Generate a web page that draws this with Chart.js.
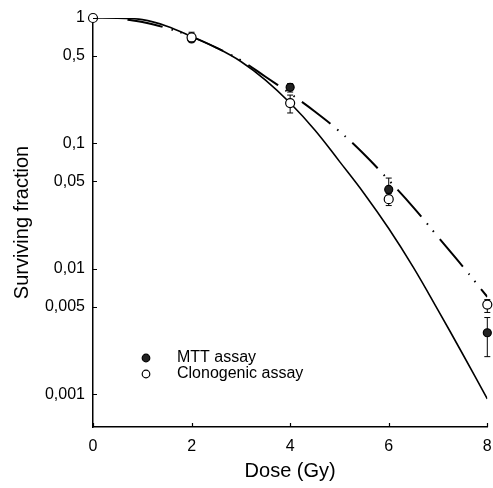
<!DOCTYPE html>
<html>
<head>
<meta charset="utf-8">
<script src="https://cdn.jsdelivr.net/npm/chart.js@4.4.1/dist/chart.umd.min.js"></script>
<style>
html, body { margin: 0; padding: 0; background: #fff; }
#wrap { width: 493px; height: 488px; }
</style>
</head>
<body>
<div id="wrap"><canvas id="myChart"></canvas></div>
<script>
Chart.defaults.font.family = 'Liberation Sans, Arial, sans-serif';
Chart.defaults.color = '#000';

const doses = [0, 2, 4, 6, 8];
const mttValues = [null, 0.68, 0.28, 0.043, 0.0031];
const mttLow = [null, 0.66, 0.257, 0.040, 0.0020];
const mttHigh = [null, 0.70, 0.30, 0.053, 0.0041];
const clonoValues = [1, 0.70, 0.21, 0.036, 0.0052];
const clonoLow = [1, 0.66, 0.175, 0.032, 0.0045];
const clonoHigh = [1, 0.77, 0.243, 0.038, 0.0057];

// fitted curves
const solidDoses = [0, 0.5, 1, 1.5, 2, 2.5, 3, 3.5, 4, 4.5, 5, 5.5, 6, 6.5, 7, 7.5, 8];
const solidFit = [1, 0.995, 0.97, 0.86, 0.71, 0.58, 0.45, 0.32, 0.21, 0.128, 0.072, 0.04, 0.021, 0.0103, 0.0047, 0.0021, 0.00092];
const dashDoses = [0.7, 1, 1.5, 2, 2.5, 3, 3.5, 4, 4.5, 5, 5.5, 6, 6.5, 7, 7.5, 8];
const dashFit = [0.97, 0.93, 0.83, 0.71, 0.58, 0.46, 0.34, 0.25, 0.18, 0.125, 0.082, 0.051, 0.031, 0.018, 0.0105, 0.006];

const yTicks = [1, 0.5, 0.1, 0.05, 0.01, 0.005, 0.001];
const yTickLabels = ['1', '0,5', '0,1', '0,05', '0,01', '0,005', '0,001'];
const xTicks = [0, 2, 4, 6, 8];

function pts(xs, ys) {
    return xs.map((x, i) => ({ x: x, y: ys[i] })).filter(p => p.y !== null);
}

// error bars, drawn under the markers
const errorBars = {
    id: 'errorBars',
    beforeDatasetsDraw(chart) {
        const ctx = chart.ctx;
        const xs = chart.scales.x, ys = chart.scales.y;
        const sets = [[mttLow, mttHigh], [clonoLow, clonoHigh]];
        ctx.save();
        ctx.strokeStyle = '#000';
        ctx.lineWidth = 1;
        sets.forEach(s => {
            doses.forEach((d, i) => {
                if (s[0][i] === null) return;
                const px = xs.getPixelForValue(d);
                const lo = ys.getPixelForValue(s[0][i]);
                const hi = ys.getPixelForValue(s[1][i]);
                ctx.beginPath();
                ctx.moveTo(px, lo); ctx.lineTo(px, hi);
                ctx.moveTo(px - 3, lo); ctx.lineTo(px + 3, lo);
                ctx.moveTo(px - 3, hi); ctx.lineTo(px + 3, hi);
                ctx.stroke();
            });
        });
        ctx.restore();
    }
};

// small inward tick marks + legend block
const extras = {
    id: 'extras',
    afterDraw(chart) {
        const ctx = chart.ctx;
        const a = chart.chartArea;
        const xs = chart.scales.x, ys = chart.scales.y;
        ctx.save();
        ctx.strokeStyle = '#000';
        ctx.lineWidth = 1.2;
        ctx.beginPath();
        yTicks.forEach(v => {
            const py = Math.round(ys.getPixelForValue(v)) + 0.5;
            ctx.moveTo(a.left, py); ctx.lineTo(a.left + 4, py);
        });
        xTicks.forEach(v => {
            const px = Math.round(xs.getPixelForValue(v)) + 0.5;
            ctx.moveTo(px, a.bottom); ctx.lineTo(px, a.bottom - 4);
        });
        ctx.stroke();

        const items = [
            { label: 'MTT assay', fill: '#222', y: 358 },
            { label: 'Clonogenic assay', fill: '#fff', y: 374 }
        ];
        ctx.font = '16px Liberation Sans, Arial, sans-serif';
        ctx.textBaseline = 'middle';
        items.forEach(it => {
            ctx.beginPath();
            ctx.arc(146, it.y, 3.8, 0, Math.PI * 2);
            ctx.fillStyle = it.fill;
            ctx.fill();
            ctx.lineWidth = 1.2;
            ctx.stroke();
            ctx.fillStyle = '#000';
            ctx.fillText(it.label, 177, it.y);
        });
        ctx.restore();
    }
};

new Chart(document.getElementById('myChart'), {
    type: 'line',
    data: {
        datasets: [{
            label: 'fit',
            data: pts(solidDoses, solidFit),
            borderColor: '#000',
            borderWidth: 1.6,
            pointRadius: 0,
            tension: 0.4,
            fill: false,
            order: 4
        }, {
            label: 'fit MTT',
            data: pts(dashDoses, dashFit),
            borderColor: '#000',
            borderWidth: 2,
            borderDash: [36, 9, 1.5, 8, 1.5, 9],
            pointRadius: 0,
            tension: 0.4,
            fill: false,
            order: 3
        }, {
            label: 'MTT assay',
            data: pts(doses, mttValues),
            showLine: false,
            pointRadius: 4,
            pointBackgroundColor: '#222',
            pointBorderColor: '#000',
            pointBorderWidth: 1.2,
            clip: false,
            order: 2
        }, {
            label: 'Clonogenic assay',
            data: pts(doses, clonoValues),
            showLine: false,
            pointRadius: 4.5,
            pointBackgroundColor: '#fff',
            pointBorderColor: '#000',
            pointBorderWidth: 1.2,
            clip: false,
            order: 1
        }]
    },
    options: {
        responsive: true,
        maintainAspectRatio: false,
        animation: false,
        layout: { padding: { top: 18, right: 5, left: 0, bottom: 0 } },
        plugins: {
            legend: { display: false },
            tooltip: { enabled: false }
        },
        scales: {
            x: {
                type: 'linear',
                min: 0,
                max: 8,
                grid: { display: false, drawTicks: false },
                border: { display: true, color: '#000', width: 1.5 },
                afterBuildTicks: s => { s.ticks = xTicks.map(v => ({ value: v })); },
                afterFit: s => { s.height = 61; s.paddingRight = 0; s.paddingLeft = 0; },
                ticks: { font: { size: 16 }, padding: 10, maxRotation: 0 },
                title: { display: true, text: 'Dose (Gy)', font: { size: 20 }, padding: { bottom: 5 } }
            },
            y: {
                type: 'logarithmic',
                min: 0.00055,
                max: 1,
                grid: { display: false, drawTicks: false },
                border: { display: true, color: '#000', width: 1.5 },
                afterBuildTicks: s => { s.ticks = yTicks.map(v => ({ value: v })); },
                afterFit: s => { s.width = 93; s.paddingTop = 0; s.paddingBottom = 0; },
                ticks: {
                    font: { size: 16 },
                    padding: 8,
                    callback: (v) => yTickLabels[yTicks.indexOf(v)] ?? ''
                },
                title: { display: true, text: 'Surviving fraction', font: { size: 20 }, padding: { top: 10 } }
            }
        }
    },
    plugins: [errorBars, extras]
});
</script>
</body>
</html>
